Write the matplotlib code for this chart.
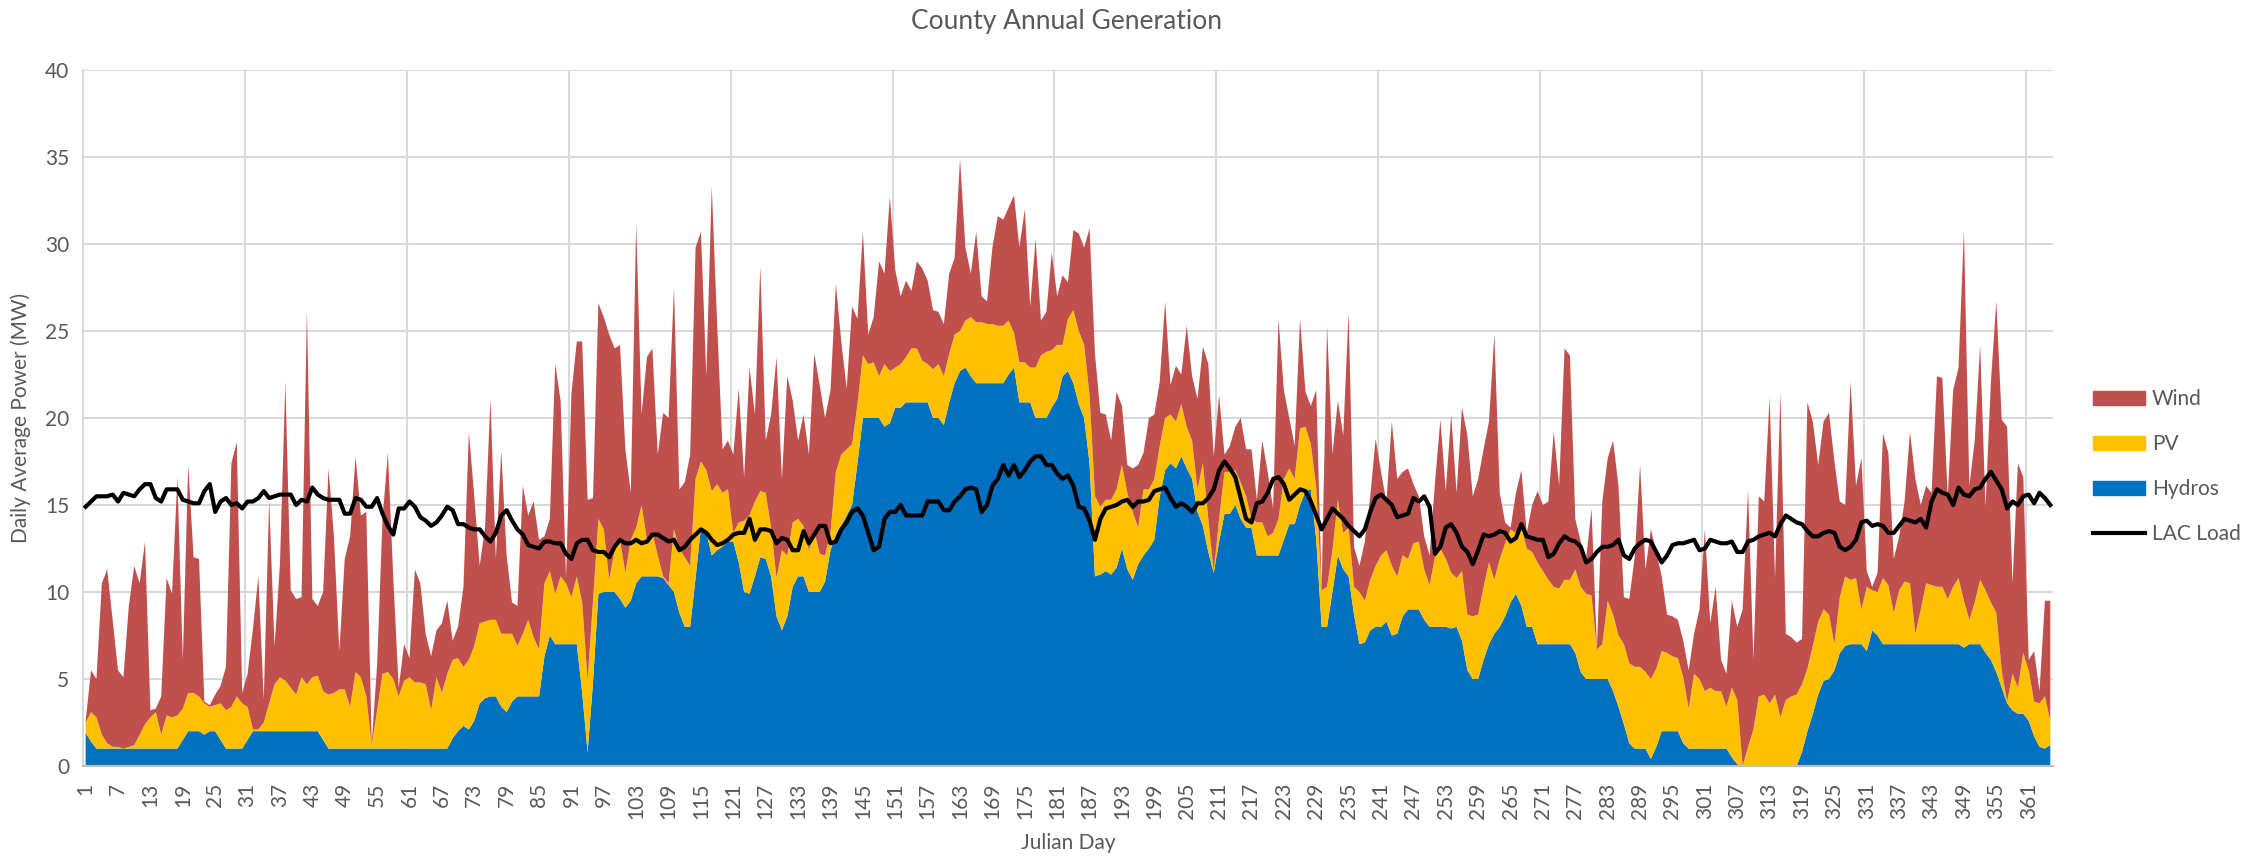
import numpy as np
import matplotlib
matplotlib.use("Agg")
import matplotlib.pyplot as plt
from matplotlib.patches import Patch
from matplotlib.lines import Line2D

plt.rcParams['font.family'] = ['Lato', 'DejaVu Sans']

days = list(range(1, 366))

hydro = [
    1.9, 1.4, 1.0, 1.0, 1.0, 1.0, 1.0, 1.0, 1.0, 1.0,
    1.0, 1.0, 1.0, 1.0, 1.0, 1.0, 1.0, 1.0, 1.5, 2.0,
    2.0, 2.0, 1.8, 2.0, 2.0, 1.5, 1.0, 1.0, 1.0, 1.0,
    1.5, 2.0, 2.0, 2.0, 2.0, 2.0, 2.0, 2.0, 2.0, 2.0,
    2.0, 2.0, 2.0, 2.0, 1.5, 1.0, 1.0, 1.0, 1.0, 1.0,
    1.0, 1.0, 1.0, 1.0, 1.0, 1.0, 1.0, 1.0, 1.0, 1.0,
    1.0, 1.0, 1.0, 1.0, 1.0, 1.0, 1.0, 1.0, 1.6, 2.0,
    2.3, 2.1, 2.6, 3.6, 3.9, 4.0, 4.0, 3.4, 3.1, 3.7,
    4.0, 4.0, 4.0, 4.0, 4.0, 6.3, 7.5, 7.0, 7.0, 7.0,
    7.0, 7.0, 4.2, 0.8, 4.8, 9.9, 10.0, 10.0, 10.0, 9.6,
    9.1, 9.5, 10.5, 10.9, 10.9, 10.9, 10.9, 10.8, 10.4, 10.0,
    8.8, 8.0, 8.0, 10.8, 13.7, 13.4, 12.1, 12.4, 12.6, 12.9,
    12.9, 11.7, 10.0, 9.9, 10.9, 12.0, 11.9, 10.9, 8.6, 7.8,
    8.6, 10.3, 10.9, 10.9, 10.0, 10.0, 10.0, 10.6, 12.4, 13.3,
    13.8, 14.4, 15.0, 17.4, 20.0, 20.0, 20.0, 20.0, 19.5, 19.7,
    20.6, 20.6, 20.9, 20.9, 20.9, 20.9, 20.9, 20.0, 20.0, 19.6,
    20.9, 22.0, 22.7, 22.9, 22.4, 22.0, 22.0, 22.0, 22.0, 22.0,
    22.0, 22.5, 22.9, 20.9, 20.9, 20.9, 20.0, 20.0, 20.0, 20.6,
    21.1, 22.4, 22.7, 22.0, 20.8, 20.0, 17.4, 10.9, 11.0, 11.2,
    11.0, 11.4, 12.5, 11.3, 10.7, 11.6, 12.1, 12.5, 13.0, 15.5,
    17.0, 17.4, 17.1, 17.8, 17.1, 16.5, 14.6, 13.8, 12.3, 11.1,
    12.9, 14.5, 14.5, 15.0, 14.2, 13.7, 13.7, 12.1, 12.1, 12.1,
    12.1, 12.1, 13.0, 13.9, 13.9, 15.0, 15.8, 15.9, 13.0, 8.0,
    8.0, 10.0, 12.1, 11.3, 10.9, 8.7, 7.0, 7.1, 7.8, 8.0,
    8.0, 8.3, 7.5, 7.6, 8.6, 9.0, 9.0, 9.0, 8.4, 8.0,
    8.0, 8.0, 8.0, 7.9, 8.0, 7.2, 5.5, 5.0, 5.0, 6.1,
    7.0, 7.6, 8.0, 8.6, 9.4, 9.9, 9.2, 8.0, 8.0, 7.0,
    7.0, 7.0, 7.0, 7.0, 7.0, 7.0, 6.5, 5.4, 5.0, 5.0,
    5.0, 5.0, 5.0, 4.3, 3.4, 2.4, 1.3, 1.0, 1.0, 1.0,
    0.4, 1.1, 2.0, 2.0, 2.0, 2.0, 1.3, 1.0, 1.0, 1.0,
    1.0, 1.0, 1.0, 1.0, 1.0, 0.5, 0.1, 0.0, 0.0, 0.0,
    0.0, 0.0, 0.0, 0.0, 0.0, 0.0, 0.0, 0.0, 0.8, 2.0,
    3.0, 4.1, 4.9, 5.0, 5.5, 6.5, 6.9, 7.0, 7.0, 7.0,
    6.6, 7.8, 7.5, 7.0, 7.0, 7.0, 7.0, 7.0, 7.0, 7.0,
    7.0, 7.0, 7.0, 7.0, 7.0, 7.0, 7.0, 7.0, 6.8, 7.0,
    7.0, 7.0, 6.5, 6.1, 5.4, 4.5, 3.6, 3.2, 3.0, 3.0,
    2.6, 1.7, 1.1, 1.0, 1.2,
]

pv = [
    0.6, 1.7, 1.8, 0.8, 0.3, 0.1, 0.1, 0.0, 0.1, 0.2,
    0.8, 1.4, 1.8, 2.1, 0.8, 1.9, 1.8, 1.9, 1.8, 2.2,
    2.2, 2.0, 1.8, 1.4, 1.5, 2.1, 2.2, 2.4, 3.0, 2.6,
    1.9, 0.1, 0.1, 0.5, 1.6, 2.7, 3.1, 2.9, 2.5, 2.1,
    3.1, 2.7, 3.1, 3.2, 2.8, 3.1, 3.2, 3.4, 3.4, 2.4,
    4.4, 4.1, 3.0, 0.2, 2.2, 4.3, 4.4, 4.0, 3.0, 3.9,
    4.1, 3.8, 3.8, 3.7, 2.2, 4.1, 3.2, 4.3, 4.5, 4.2,
    3.4, 4.0, 4.3, 4.6, 4.4, 4.4, 4.4, 4.2, 4.5, 3.9,
    2.9, 3.6, 4.4, 3.4, 2.7, 4.2, 3.7, 2.9, 3.9, 3.5,
    2.7, 3.9, 5.2, 4.1, 4.7, 4.3, 3.6, 0.7, 2.4, 3.4,
    2.0, 3.5, 3.2, 4.1, 2.1, 2.5, 1.2, 0.1, 0.1, 3.6,
    3.7, 4.0, 3.5, 5.7, 3.8, 3.6, 3.7, 3.8, 3.1, 3.0,
    0.5, 2.3, 4.1, 4.5, 4.3, 3.8, 3.8, 2.8, 2.2, 4.6,
    3.5, 3.7, 3.3, 2.9, 2.4, 3.5, 2.2, 1.5, 1.0, 3.6,
    4.1, 3.8, 3.5, 3.4, 3.6, 3.1, 3.2, 2.4, 3.6, 3.0,
    2.3, 2.5, 2.6, 3.1, 3.1, 2.4, 2.2, 2.8, 3.1, 2.8,
    2.8, 2.8, 2.3, 2.7, 3.4, 3.5, 3.5, 3.4, 3.4, 3.3,
    3.3, 3.1, 2.0, 2.3, 2.3, 2.0, 2.9, 3.6, 3.8, 3.3,
    3.1, 1.8, 3.0, 4.2, 4.2, 4.2, 3.9, 4.6, 3.9, 4.1,
    4.3, 4.5, 4.8, 4.4, 3.9, 2.1, 3.8, 3.4, 3.5, 2.9,
    3.0, 2.8, 2.7, 3.0, 2.4, 2.2, 1.3, 3.6, 1.9, 0.1,
    1.3, 2.4, 2.4, 2.0, 2.1, 1.8, 0.5, 1.9, 1.9, 1.1,
    1.3, 2.1, 3.5, 3.2, 2.6, 4.4, 3.7, 2.6, 3.0, 2.1,
    2.3, 2.4, 3.2, 2.1, 2.8, 1.6, 3.0, 2.4, 2.9, 3.5,
    4.1, 4.1, 4.0, 3.3, 3.5, 2.9, 3.8, 3.9, 2.9, 2.4,
    4.0, 4.5, 3.9, 3.2, 2.8, 4.0, 3.2, 3.6, 3.7, 4.2,
    4.7, 3.1, 3.9, 4.2, 4.2, 3.5, 4.5, 4.5, 4.3, 4.7,
    4.2, 3.7, 3.3, 3.2, 3.7, 3.7, 4.8, 4.9, 4.9, 4.8,
    1.7, 2.0, 4.5, 4.4, 4.1, 4.6, 4.6, 4.7, 4.7, 4.4,
    4.6, 4.5, 4.6, 4.5, 4.3, 4.2, 3.8, 2.3, 4.3, 4.0,
    3.3, 3.5, 3.3, 3.3, 2.4, 4.0, 3.7, 0.0, 1.1, 2.1,
    4.0, 4.1, 3.6, 4.1, 2.8, 3.8, 4.0, 4.1, 3.9, 3.6,
    3.9, 4.2, 4.1, 3.7, 1.5, 3.2, 4.0, 3.7, 3.8, 2.0,
    3.7, 2.3, 2.5, 3.8, 3.4, 1.8, 3.1, 3.6, 3.5, 0.6,
    2.0, 3.5, 3.4, 3.3, 3.3, 2.6, 3.3, 3.8, 2.7, 1.4,
    2.4, 3.7, 3.6, 3.3, 3.4, 1.0, 0.1, 2.1, 1.5, 3.5,
    2.9, 2.0, 2.5, 3.0, 1.4,
]

wind = [
    0.1, 2.4, 2.2, 8.7, 10.0, 7.3, 4.4, 4.1, 8.1, 10.3,
    8.7, 10.5, 0.4, 0.2, 2.2, 7.9, 7.1, 13.7, 2.8, 13.1,
    7.8, 7.9, 0.1, 0.1, 0.6, 1.0, 2.5, 14.0, 14.6, 0.6,
    1.9, 5.8, 8.8, 1.3, 11.7, 2.2, 6.5, 17.2, 5.6, 5.5,
    4.6, 21.5, 4.5, 4.0, 5.7, 13.0, 9.0, 2.2, 7.5, 9.8,
    12.4, 9.3, 10.6, 0.1, 2.6, 8.9, 12.6, 5.8, 0.5, 2.1,
    1.1, 6.5, 5.7, 2.9, 3.1, 2.7, 4.0, 4.2, 1.1, 1.8,
    4.6, 13.1, 8.6, 3.3, 5.4, 12.7, 3.5, 10.5, 4.5, 1.8,
    2.3, 8.5, 6.0, 7.8, 6.3, 2.7, 3.0, 13.2, 10.1, 0.3,
    11.7, 13.5, 15.0, 10.4, 5.9, 12.4, 12.2, 14.1, 11.6, 11.2,
    7.1, 2.7, 17.5, 5.2, 10.5, 10.6, 5.8, 9.4, 9.5, 13.9,
    3.4, 4.3, 6.4, 13.3, 13.2, 5.4, 17.5, 9.2, 2.5, 2.8,
    4.5, 7.7, 2.5, 8.5, 5.0, 12.9, 3.0, 6.5, 12.7, 4.1,
    10.3, 7.0, 4.5, 6.4, 5.5, 10.2, 9.7, 7.9, 8.2, 10.8,
    6.5, 3.5, 7.9, 4.9, 7.1, 1.7, 2.6, 6.6, 5.2, 10.0,
    5.6, 3.9, 4.4, 3.3, 5.0, 5.3, 4.8, 3.4, 3.0, 3.0,
    4.6, 4.4, 9.9, 4.2, 2.5, 5.2, 1.5, 1.3, 4.4, 6.3,
    6.1, 6.5, 7.9, 6.6, 8.8, 3.5, 7.4, 2.0, 2.3, 5.6,
    2.8, 4.0, 2.1, 4.6, 5.6, 5.6, 9.6, 8.2, 5.4, 4.9,
    3.4, 5.6, 3.4, 1.6, 2.5, 3.6, 2.1, 4.1, 3.7, 3.7,
    6.7, 1.7, 3.2, 1.7, 5.8, 3.7, 5.2, 6.7, 8.9, 6.6,
    7.1, 1.0, 1.5, 2.5, 3.7, 2.7, 4.0, 1.3, 4.7, 3.7,
    1.4, 11.5, 5.1, 2.9, 1.9, 6.3, 2.0, 2.2, 5.6, 0.2,
    15.0, 5.5, 5.7, 5.6, 12.4, 2.3, 1.5, 3.4, 4.8, 7.3,
    4.8, 2.8, 8.3, 5.6, 4.8, 5.2, 3.4, 2.6, 1.9, 1.7,
    4.3, 7.4, 3.9, 9.1, 4.9, 9.4, 10.3, 6.9, 7.8, 7.9,
    8.1, 14.1, 3.8, 1.2, 0.1, 2.3, 3.3, 0.9, 2.7, 4.1,
    3.8, 4.5, 8.9, 5.9, 13.3, 12.9, 2.9, 2.6, 2.0, 5.0,
    0.1, 8.2, 8.2, 10.0, 8.6, 2.7, 3.7, 6.3, 11.6, 5.9,
    8.6, 6.7, 4.3, 2.2, 2.3, 2.2, 2.1, 2.2, 2.3, 4.0,
    9.3, 3.7, 6.0, 1.8, 1.9, 5.0, 4.2, 9.0, 14.8, 4.0,
    11.5, 11.1, 17.6, 6.7, 18.7, 3.8, 3.4, 3.0, 2.6, 15.3,
    12.9, 9.0, 10.8, 11.6, 10.5, 5.5, 4.1, 11.4, 5.3, 8.7,
    0.9, 0.2, 1.1, 8.3, 7.6, 3.1, 3.1, 4.6, 8.7, 8.9,
    6.0, 5.6, 5.3, 12.1, 12.0, 5.9, 11.3, 12.1, 21.3, 7.7,
    9.3, 13.5, 4.8, 12.7, 17.9, 14.4, 15.8, 5.2, 12.9, 10.1,
    0.6, 2.9, 0.7, 5.5, 6.9,
]

load = [
    14.9, 15.2, 15.5, 15.5, 15.5, 15.6, 15.2, 15.7, 15.6, 15.5,
    15.9, 16.2, 16.2, 15.4, 15.2, 15.9, 15.9, 15.9, 15.3, 15.2,
    15.1, 15.1, 15.8, 16.2, 14.6, 15.2, 15.4, 15.0, 15.1, 14.8,
    15.2, 15.2, 15.4, 15.8, 15.4, 15.5, 15.6, 15.6, 15.6, 15.0,
    15.3, 15.2, 16.0, 15.6, 15.4, 15.3, 15.3, 15.3, 14.5, 14.5,
    15.4, 15.3, 14.9, 14.9, 15.4, 14.5, 13.8, 13.3, 14.8, 14.8,
    15.2, 14.9, 14.3, 14.1, 13.8, 14.0, 14.4, 14.9, 14.7, 13.9,
    13.9, 13.7, 13.6, 13.6, 13.2, 12.9, 13.4, 14.4, 14.7, 14.1,
    13.6, 13.3, 12.7, 12.6, 12.5, 12.9, 12.9, 12.8, 12.8, 12.2,
    11.9, 12.8, 13.0, 13.0, 12.4, 12.3, 12.3, 12.0, 12.6, 13.0,
    12.8, 12.8, 13.0, 12.8, 12.9, 13.3, 13.3, 13.1, 12.9, 13.0,
    12.4, 12.6, 13.0, 13.3, 13.6, 13.4, 13.0, 12.7, 12.8, 13.0,
    13.3, 13.4, 13.4, 14.2, 13.0, 13.6, 13.6, 13.5, 12.8, 13.1,
    13.0, 12.4, 12.4, 13.5, 12.8, 13.3, 13.8, 13.8, 12.8, 12.9,
    13.6, 14.0, 14.6, 14.8, 14.4, 13.4, 12.4, 12.6, 14.2, 14.6,
    14.6, 15.0, 14.4, 14.4, 14.4, 14.4, 15.2, 15.2, 15.2, 14.7,
    14.7, 15.2, 15.5, 15.9, 16.0, 15.9, 14.6, 15.0, 16.1, 16.5,
    17.3, 16.7, 17.3, 16.6, 17.0, 17.5, 17.8, 17.8, 17.3, 17.3,
    16.8, 16.5, 16.7, 16.1, 14.9, 14.8, 14.1, 13.0, 14.2, 14.8,
    14.9, 15.0, 15.2, 15.3, 14.9, 15.2, 15.2, 15.3, 15.8, 15.9,
    16.0, 15.4, 14.9, 15.1, 14.9, 14.6, 15.1, 15.1, 15.4, 15.9,
    17.0, 17.5, 17.1, 16.6, 15.4, 14.2, 14.0, 15.1, 15.2, 15.7,
    16.5, 16.6, 16.2, 15.3, 15.6, 15.9, 15.8, 15.2, 14.4, 13.6,
    14.2, 14.8, 14.5, 14.2, 13.8, 13.5, 13.2, 13.6, 14.6, 15.4,
    15.6, 15.3, 15.0, 14.3, 14.4, 14.5, 15.4, 15.2, 15.5, 14.9,
    12.2, 12.6, 13.7, 13.9, 13.4, 12.6, 12.3, 11.6, 12.4, 13.3,
    13.2, 13.3, 13.5, 13.4, 12.9, 13.1, 13.9, 13.2, 13.1, 13.0,
    13.0, 12.0, 12.2, 12.8, 13.2, 13.0, 12.9, 12.6, 11.7, 11.9,
    12.3, 12.6, 12.6, 12.7, 13.0, 12.1, 11.9, 12.5, 12.8, 13.0,
    12.9, 12.3, 11.7, 12.1, 12.7, 12.8, 12.8, 12.9, 13.0, 12.4,
    12.5, 13.0, 12.9, 12.8, 12.8, 12.9, 12.3, 12.3, 12.9, 13.0,
    13.2, 13.3, 13.4, 13.2, 13.9, 14.4, 14.2, 14.0, 13.9, 13.5,
    13.2, 13.2, 13.4, 13.5, 13.4, 12.6, 12.4, 12.6, 13.0, 14.0,
    14.1, 13.8, 13.9, 13.8, 13.4, 13.4, 13.8, 14.2, 14.1, 14.0,
    14.2, 13.7, 15.2, 15.9, 15.7, 15.6, 15.0, 16.0, 15.6, 15.5,
    15.9, 16.0, 16.5, 16.9, 16.4, 15.9, 14.8, 15.2, 15.0, 15.5,
    15.6, 15.1, 15.7, 15.4, 15.0,
]

tick_days = list(range(1, 366, 6))
grid_days = [30.5, 60.5, 90.5, 120.5, 150.5, 180.5, 210.5, 240.5, 270.5, 300.5, 330.5, 360.5]

c_hydro = '#0070C0'
c_pv = '#FFC000'
c_wind = '#C0504D'
txt = '#595959'

fig = plt.figure(figsize=(22.42, 8.6), dpi=100)
ax = fig.add_axes([0.037, 0.1093, 0.8787, 0.8093])

ax.stackplot(days, hydro, pv, wind, colors=[c_hydro, c_pv, c_wind], linewidth=0, zorder=2)
ax.plot(days, load, color='black', linewidth=3.0, zorder=3)

ax.set_xlim(0.5, 365.5)
ax.set_ylim(0, 40)
ax.set_yticks(range(0, 41, 5))
ax.set_xticks(tick_days)
ax.set_xticklabels([str(d) for d in tick_days], rotation=90)

for y in range(5, 41, 5):
    ax.axhline(y, color='#D9D9D9', linewidth=1.5, zorder=1)
for g in grid_days:
    ax.axvline(g, color='#D9D9D9', linewidth=1.5, zorder=1)

ax.tick_params(axis='both', length=0, labelsize=15, colors=txt)
ax.tick_params(axis='x', pad=12)
ax.tick_params(axis='y', pad=10)
for s in ['top', 'right']:
    ax.spines[s].set_visible(False)
ax.spines['left'].set_color('#D9D9D9')
ax.spines['left'].set_linewidth(1.5)
ax.spines['bottom'].set_color('#BFBFBF')
ax.spines['bottom'].set_linewidth(1.5)
ax.spines['bottom'].set_zorder(4)

ax.set_xlabel('Julian Day', fontsize=15, color=txt, labelpad=10)
ax.set_ylabel('Daily Average Power (MW)', fontsize=15, color=txt, labelpad=10)
fig.text(0.4755, 0.975, 'County Annual Generation', ha='center', va='center', fontsize=19, color=txt)

handles = [
    Patch(color=c_wind, label='Wind'),
    Patch(color=c_pv, label='PV'),
    Patch(color=c_hydro, label='Hydros'),
    Line2D([], [], color='black', linewidth=3.0, label='LAC Load'),
]
leg = fig.legend(handles=handles, loc='center left', bbox_to_anchor=(0.925, 0.457),
                 frameon=False, fontsize=15, handlelength=2.5, handleheight=0.7,
                 labelspacing=1.2, handletextpad=0.35)
for t in leg.get_texts():
    t.set_color(txt)

fig.savefig('out.png', dpi=100)
